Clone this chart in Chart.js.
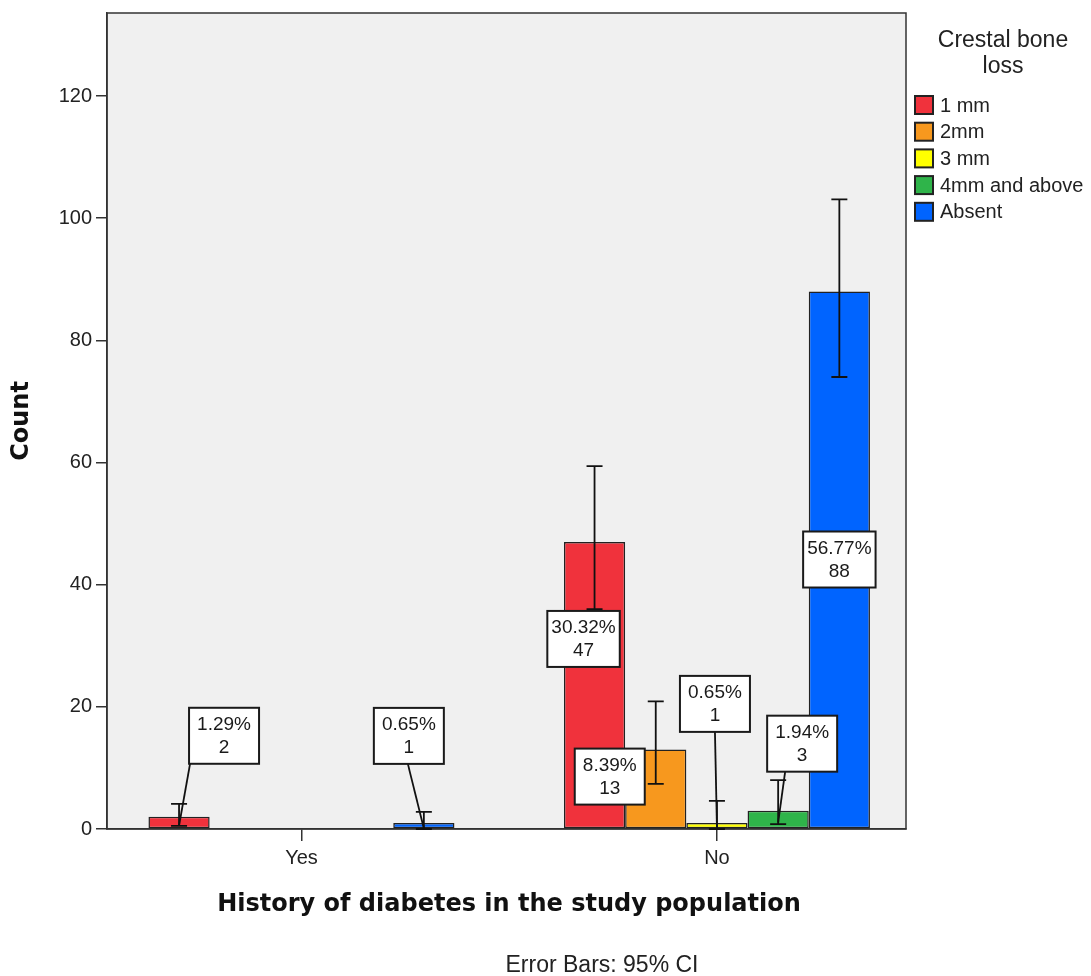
<!DOCTYPE html>
<html>
<head>
<meta charset="utf-8">
<script src="https://cdn.jsdelivr.net/npm/chart.js@4.4.1/dist/chart.umd.min.js"></script>
<style>
  body { margin: 0; background: #fff; }
  canvas { display: block; }
</style>
</head>
<body>
<canvas id="chart" width="1091" height="976"></canvas>
<script>
// categories and series
const categories = ['Yes', 'No'];
const lossLevels = ['1 mm', '2mm', '3 mm', '4mm and above', 'Absent'];

const counts1mm = [2, 47];
const counts2mm = [0, 13];
const counts3mm = [0, 1];
const counts4mm = [0, 3];
const countsAbsent = [1, 88];

// 95% CI
const ciLow1mm = [0.5, 36.0];
const ciHigh1mm = [4.1, 59.4];
const ciLow2mm = [0, 7.4];
const ciHigh2mm = [0, 20.9];
const ciLow3mm = [0, 0];
const ciHigh3mm = [0, 4.6];
const ciLow4mm = [0, 0.8];
const ciHigh4mm = [0, 8.0];
const ciLowAbsent = [0, 74.0];
const ciHighAbsent = [2.8, 103.1];

const yTicks = [0, 20, 40, 60, 80, 100, 120];

const colors = ['#f0323c', '#f7981e', '#ffff00', '#2fb44a', '#0064ff'];

// where each value box sits relative to its bar (dx, dy from bar top, leader start offset)
const labelLayout = [
    [{dx: 45, dy: -81, lx: -34}, {dx: -11, dy: 97}],
    [null, {dx: -46, dy: 27}],
    [null, {dx: -2, dy: -119, lx: 0}],
    [null, {dx: 24, dy: -67, lx: -17}],
    [{dx: -15, dy: -87, lx: -1}, {dx: 0, dy: 268}]
];

const seriesCounts = [counts1mm, counts2mm, counts3mm, counts4mm, countsAbsent];
const seriesLow = [ciLow1mm, ciLow2mm, ciLow3mm, ciLow4mm, ciLowAbsent];
const seriesHigh = [ciHigh1mm, ciHigh2mm, ciHigh3mm, ciHigh4mm, ciHighAbsent];

const total = seriesCounts.flat().reduce((a, b) => a + b, 0);

const SANS = '"Liberation Sans", Arial, sans-serif';

const datasets = lossLevels.map((name, s) => ({
    label: name,
    data: seriesCounts[s].map((v, i) => ({x: i, y: v})),
    ciLow: seriesLow[s],
    ciHigh: seriesHigh[s],
    backgroundColor: colors[s],
    borderColor: '#222',
    borderWidth: 1.5,
    borderSkipped: false,
    categoryPercentage: 0.7365,
    barPercentage: 1
}));

const plotPlugin = {
    id: 'plotDecor',
    beforeDraw(chart) {
        const ctx = chart.ctx;
        const a = chart.chartArea;
        ctx.save();
        ctx.fillStyle = '#fff';
        ctx.fillRect(0, 0, chart.width, chart.height);
        ctx.fillStyle = '#f0f0f0';
        ctx.fillRect(a.left, a.top, a.right - a.left, a.bottom - a.top);
        ctx.restore();
    },
    beforeDatasetsDraw(chart) {
        const ctx = chart.ctx;
        const a = chart.chartArea;
        ctx.save();
        ctx.strokeStyle = '#333';
        ctx.lineWidth = 1.5;
        ctx.strokeRect(a.left, a.top, a.right - a.left, a.bottom - a.top);
        ctx.restore();
    },
    afterDatasetsDraw(chart) {
        const ctx = chart.ctx;
        const y = chart.scales.y;

        // error bars
        ctx.save();
        ctx.strokeStyle = '#111';
        ctx.lineWidth = 1.8;
        chart.data.datasets.forEach((ds, di) => {
            chart.getDatasetMeta(di).data.forEach((bar, i) => {
                if (!ds.data[i].y) return;
                const lo = y.getPixelForValue(ds.ciLow[i]);
                const hi = y.getPixelForValue(ds.ciHigh[i]);
                ctx.beginPath();
                ctx.moveTo(bar.x, lo); ctx.lineTo(bar.x, hi);
                ctx.moveTo(bar.x - 8, lo); ctx.lineTo(bar.x + 8, lo);
                ctx.moveTo(bar.x - 8, hi); ctx.lineTo(bar.x + 8, hi);
                ctx.stroke();
            });
        });
        ctx.restore();

        // value boxes
        ctx.save();
        ctx.font = '19px ' + SANS;
        ctx.textAlign = 'center';
        ctx.textBaseline = 'middle';
        chart.data.datasets.forEach((ds, di) => {
            chart.getDatasetMeta(di).data.forEach((bar, i) => {
                const v = ds.data[i].y;
                const pos = labelLayout[di][i];
                if (!v || !pos) return;
                const pct = (v / total * 100).toFixed(2) + '%';
                const w = Math.max(ctx.measureText(pct).width + 8, 70);
                const h = 56;
                const cx = bar.x + pos.dx;
                const cy = bar.y + pos.dy;
                if (pos.lx !== undefined) {
                    ctx.strokeStyle = '#111';
                    ctx.lineWidth = 1.8;
                    ctx.beginPath();
                    ctx.moveTo(cx + pos.lx, cy + h / 2);
                    ctx.lineTo(bar.x, (bar.y + bar.base) / 2 + 3);
                    ctx.stroke();
                }
                ctx.fillStyle = '#fff';
                ctx.fillRect(cx - w / 2, cy - h / 2, w, h);
                ctx.strokeStyle = '#1a1a1a';
                ctx.lineWidth = 2;
                ctx.strokeRect(cx - w / 2, cy - h / 2, w, h);
                ctx.fillStyle = '#1a1a1a';
                ctx.fillText(pct, cx, cy - 11);
                ctx.fillText(String(v), cx, cy + 12);
            });
        });
        ctx.restore();
    },
    afterDraw(chart) {
        const ctx = chart.ctx;
        const xs = chart.scales.x;
        const ys = chart.scales.y;
        ctx.save();
        ctx.fillStyle = '#222';
        ctx.textBaseline = 'middle';

        // tick labels
        ctx.font = '20px ' + SANS;
        ctx.textAlign = 'right';
        yTicks.forEach(v => ctx.fillText(String(v), 92, ys.getPixelForValue(v)));
        ctx.textAlign = 'center';
        categories.forEach((c, i) => ctx.fillText(c, xs.getPixelForValue(i), 858));

        // axis titles
        ctx.fillStyle = '#111';
        ctx.font = 'bold 24px "DejaVu Sans", sans-serif';
        ctx.fillText('History of diabetes in the study population', 509, 905);
        ctx.save();
        ctx.translate(22, 421);
        ctx.rotate(-Math.PI / 2);
        ctx.fillText('Count', 0, 0);
        ctx.restore();

        ctx.fillStyle = '#222';
        ctx.font = '23px ' + SANS;
        ctx.fillText('Error Bars: 95% CI', 602, 966);

        // legend
        ctx.font = '23px ' + SANS;
        ctx.fillText('Crestal bone', 1003, 41);
        ctx.fillText('loss', 1003, 67);
        ctx.textAlign = 'left';
        ctx.font = '20px ' + SANS;
        lossLevels.forEach((name, s) => {
            const top = 96 + s * 26.7;
            ctx.fillStyle = colors[s];
            ctx.fillRect(915, top, 18, 18);
            ctx.strokeStyle = '#222';
            ctx.lineWidth = 2;
            ctx.strokeRect(915, top, 18, 18);
            ctx.fillStyle = '#222';
            ctx.fillText(name, 940, top + 10);
        });
        ctx.restore();
    }
};

new Chart(document.getElementById('chart'), {
    type: 'bar',
    data: { datasets: datasets },
    options: {
        responsive: false,
        animation: false,
        devicePixelRatio: 1,
        layout: { padding: { top: 13, right: 185, left: 0, bottom: 0 } },
        plugins: {
            legend: { display: false },
            tooltip: { enabled: false }
        },
        scales: {
            x: {
                type: 'linear',
                min: -0.468,
                max: 1.455,
                offset: false,
                afterFit(scale) { scale.height = 147; },
                afterBuildTicks(scale) {
                    scale.ticks = categories.map((c, i) => ({ value: i }));
                },
                grid: { display: true, drawOnChartArea: false, offset: false, tickLength: 12, color: '#333', lineWidth: 1.5 },
                border: { display: true, color: '#333', width: 1.5 },
                ticks: { display: false }
            },
            y: {
                min: 0,
                max: 133.6,
                afterFit(scale) { scale.width = 107; },
                afterBuildTicks(scale) {
                    scale.ticks = yTicks.map(v => ({ value: v }));
                },
                grid: { display: true, drawOnChartArea: false, tickLength: 11, color: '#333', lineWidth: 1.5 },
                border: { display: true, color: '#333', width: 1.5 },
                ticks: { display: false }
            }
        }
    },
    plugins: [plotPlugin]
});
</script>
</body>
</html>
